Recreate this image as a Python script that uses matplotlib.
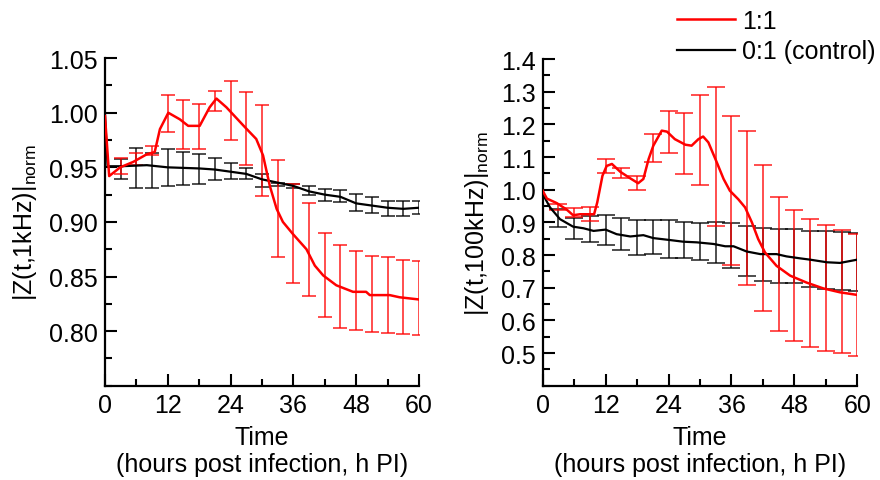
"""Impedance over time after infection, 1 kHz and 100 kHz"""

import numpy as np
import matplotlib
matplotlib.use("Agg")
import matplotlib.pyplot as plt

plt.rcParams['font.family'] = ['Liberation Sans', 'DejaVu Sans']
plt.rcParams['mathtext.fontset'] = 'custom'
plt.rcParams['mathtext.rm'] = 'Liberation Sans'

# ---- 1 kHz panel ----
red_1k_t = [0, 0.8, 2.9, 5.4, 8, 9.5, 10.5, 12.1, 14.3, 15.9, 18.1, 20, 21.3, 23.2,
            26.7, 28.9, 30.2, 31.5, 32.8, 34, 35.9, 38.5, 40.1, 41.7, 44.2, 47.4,
            49.9, 50.6, 54.4, 56.3, 60]
red_1k_y = [0.997, 0.942, 0.950, 0.955, 0.962, 0.964, 0.985, 1.000, 0.994, 0.988,
            0.988, 1.005, 1.013, 1.005, 0.987, 0.976, 0.961, 0.933, 0.912, 0.900,
            0.889, 0.875, 0.860, 0.851, 0.842, 0.836, 0.836, 0.833, 0.833, 0.831,
            0.829]
black_1k_t = [0, 0.5, 3, 8, 12, 18, 21, 24, 27, 30, 33, 36, 39, 42, 45, 48, 51, 54, 57, 60]
black_1k_y = [0.998, 0.951, 0.951, 0.952, 0.950, 0.949, 0.948, 0.946, 0.944, 0.939,
              0.936, 0.933, 0.928, 0.925, 0.923, 0.917, 0.915, 0.913, 0.912, 0.913]

err_t = [3, 6, 9, 12, 15, 18, 21, 24, 27, 30, 33, 36, 39, 42, 45, 48, 51, 54, 57, 60]
red_1k_hi = [0.959, 0.963, 0.970, 1.016, 1.012, 1.008, 1.020, 1.029, 1.019, 1.007,
             0.957, 0.935, 0.917, 0.890, 0.879, 0.873, 0.869, 0.868, 0.865, 0.864]
red_1k_lo = [0.944, 0.952, 0.961, 0.982, 0.967, 0.967, 1.002, 0.975, 0.952, 0.924,
             0.868, 0.844, 0.832, 0.813, 0.803, 0.801, 0.799, 0.798, 0.797, 0.796]
black_1k_hi = [0.958, 0.9675, 0.963, 0.967, 0.964, 0.962, 0.959, 0.954, 0.949, 0.944,
               0.936, 0.935, 0.933, 0.930, 0.929, 0.926, 0.923, 0.919, 0.919, 0.919]
black_1k_lo = [0.939, 0.931, 0.931, 0.933, 0.934, 0.935, 0.938, 0.939, 0.939, 0.932,
               0.933, 0.931, 0.925, 0.919, 0.918, 0.910, 0.908, 0.905, 0.905, 0.907]

# ---- 100 kHz panel ----
red_100k_t = [0, 0.8, 2.7, 4.6, 5.8, 7.1, 8.4, 9.8, 10.4, 11.4, 12.2, 13.2, 14.8, 16.7,
              18.2, 19.2, 20.2, 21.1, 22.7, 23.7, 25.2, 27.2, 28.4, 29.7, 30.6, 31.6,
              33.2, 34.5, 35.7, 37.3, 38.6, 39.9, 41.1, 42.4, 44.6, 47.2, 50.3, 53.5,
              56.7, 60]
red_100k_y = [0.997, 0.973, 0.959, 0.939, 0.922, 0.925, 0.925, 0.925, 0.961, 1.043,
              1.073, 1.079, 1.055, 1.035, 1.020, 1.033, 1.094, 1.135, 1.181, 1.178,
              1.155, 1.138, 1.135, 1.155, 1.163, 1.145, 1.084, 1.033, 0.997, 0.971,
              0.946, 0.900, 0.849, 0.808, 0.767, 0.737, 0.716, 0.698, 0.686, 0.678]
black_100k_t = [0, 1.4, 3.3, 5.8, 7.8, 9.7, 12, 14.1, 16.7, 19.2, 21.1, 24.3, 26.8, 29.4,
                32.6, 34.8, 36.4, 38.9, 41.5, 44.6, 46.5, 49.1, 51, 54.2, 56.7, 60]
black_100k_y = [0.987, 0.946, 0.910, 0.887, 0.882, 0.874, 0.878, 0.864, 0.857, 0.861,
                0.852, 0.846, 0.841, 0.839, 0.834, 0.827, 0.827, 0.811, 0.803, 0.803,
                0.796, 0.790, 0.786, 0.778, 0.776, 0.786]

red_100k_hi = [0.957, 0.943, 0.947, 1.093, 1.067, 1.041, 1.170, 1.240, 1.235, 1.291,
               1.315, 1.227, 1.181, 1.077, 0.979, 0.938, 0.910, 0.892, 0.877, 0.864]
red_100k_lo = [0.937, 0.918, 0.903, 1.051, 1.035, 1.000, 1.086, 1.112, 1.048, 1.015,
               0.890, 0.770, 0.709, 0.628, 0.568, 0.538, 0.519, 0.507, 0.499, 0.491]
black_100k_hi = [0.941, 0.915, 0.920, 0.922, 0.915, 0.907, 0.908, 0.907, 0.900, 0.897,
                 0.900, 0.898, 0.888, 0.883, 0.880, 0.880, 0.874, 0.874, 0.872, 0.869]
black_100k_lo = [0.885, 0.849, 0.839, 0.831, 0.816, 0.801, 0.803, 0.791, 0.791, 0.786,
                 0.775, 0.759, 0.737, 0.721, 0.716, 0.713, 0.701, 0.696, 0.693, 0.689]

x_ticks = [0, 12, 24, 36, 48, 60]
left_yticks = [0.80, 0.85, 0.90, 0.95, 1.00, 1.05]
right_yticks = [0.5, 0.6, 0.7, 0.8, 0.9, 1.0, 1.1, 1.2, 1.3, 1.4]

FS = 18


def draw_bars(ax, hi, lo, color, capsize):
    hi = np.array(hi)
    lo = np.array(lo)
    mid = (hi + lo) / 2
    ax.errorbar(err_t, mid, yerr=(hi - lo) / 2, fmt='none', ecolor=color,
                elinewidth=1.3, capsize=capsize, capthick=1.3, alpha=0.75, zorder=2)


def style_axis(ax, yticks, ylim, minor_step):
    ax.set_xlim(0, 60)
    ax.set_ylim(*ylim)
    ax.set_xticks(x_ticks)
    ax.set_xticks(np.arange(0, 61, 6), minor=True)
    ax.set_yticks(yticks)
    ax.set_yticks(np.arange(ylim[0], ylim[1] + 1e-9, minor_step), minor=True)
    ax.spines['top'].set_visible(False)
    ax.spines['right'].set_visible(False)
    for s in ('left', 'bottom'):
        ax.spines[s].set_linewidth(1.6)
    ax.tick_params(which='major', direction='in', length=8.5, width=1.5,
                   labelsize=FS, pad=5)
    ax.tick_params(which='minor', direction='in', length=5, width=1.5)
    ax.set_xlabel('Time\n(hours post infection, h PI)', fontsize=FS,
                  linespacing=1.15, labelpad=6)


fig = plt.figure(figsize=(8.8, 4.81), dpi=100)
ax1 = fig.add_axes([0.1193, 0.196, 0.3568, 0.681])
ax2 = fig.add_axes([0.6167, 0.196, 0.3575, 0.679])

# left panel
draw_bars(ax1, black_1k_hi, black_1k_lo, 'black', 5)
draw_bars(ax1, red_1k_hi, red_1k_lo, 'red', 5)
ax1.plot(black_1k_t, black_1k_y, color='black', lw=1.6, zorder=3)
ax1.plot(red_1k_t, red_1k_y, color='red', lw=1.8, zorder=4)
style_axis(ax1, left_yticks, (0.75, 1.05), 0.025)
ax1.yaxis.set_major_formatter(matplotlib.ticker.FormatStrFormatter('%.2f'))
ax1.set_ylabel(r'|Z(t,1kHz)|$_{\mathrm{norm}}$', fontsize=FS, labelpad=7)

# right panel
draw_bars(ax2, black_100k_hi, black_100k_lo, 'black', 6.5)
draw_bars(ax2, red_100k_hi, red_100k_lo, 'red', 6.5)
ax2.plot(black_100k_t, black_100k_y, color='black', lw=1.6, zorder=3)
ax2.plot(red_100k_t, red_100k_y, color='red', lw=1.8, zorder=4)
style_axis(ax2, right_yticks, (0.4, 1.4), 0.05)
ax2.yaxis.set_major_formatter(matplotlib.ticker.FormatStrFormatter('%.1f'))
ax2.set_ylabel(r'|Z(t,100kHz)|$_{\mathrm{norm}}$', fontsize=FS, labelpad=7)

# legend
h1, = ax2.plot([], [], color='red', lw=1.8)
h2, = ax2.plot([], [], color='black', lw=1.6)
fig.legend([h1, h2], ['1:1', '0:1 (control)'], loc='upper left',
           bbox_to_anchor=(677 / 880, 1 - 10 / 481), frameon=False, fontsize=FS,
           handlelength=2.3, handletextpad=0.3, labelspacing=0.25,
           borderpad=0, borderaxespad=0)

fig.savefig('out.png', dpi=100)
